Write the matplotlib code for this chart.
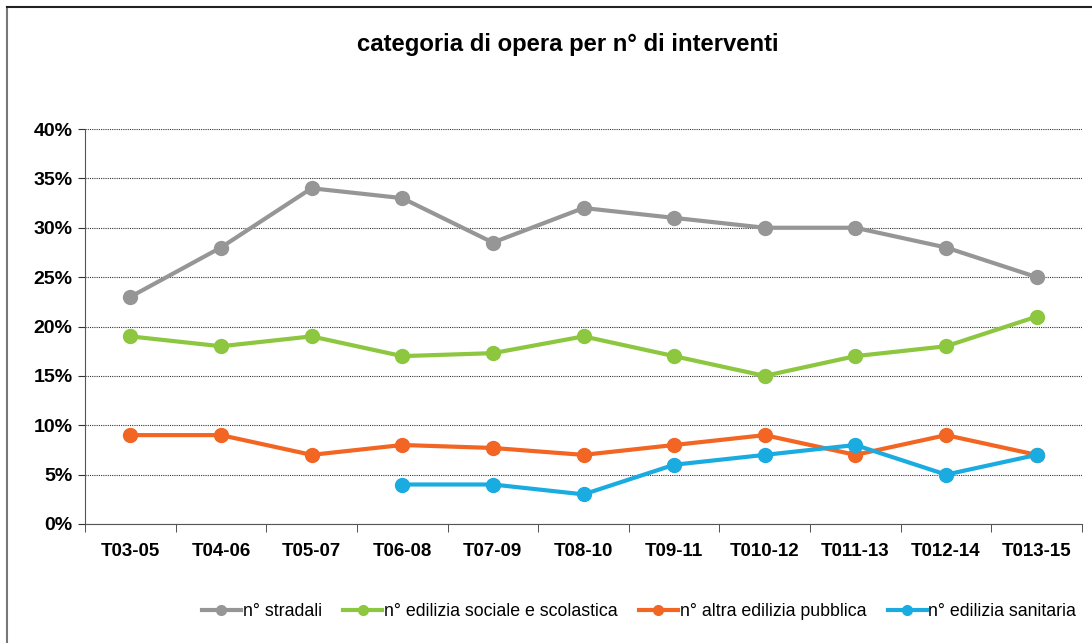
import matplotlib
matplotlib.use("Agg")
import matplotlib.pyplot as plt
from matplotlib.lines import Line2D
import numpy as np

categories = ["T03-05", "T04-06", "T05-07", "T06-08", "T07-09", "T08-10",
              "T09-11", "T010-12", "T011-13", "T012-14", "T013-15"]
stradali = [23, 28, 34, 33, 28.5, 32, 31, 30, 30, 28, 25]
sociale = [19, 18, 19, 17, 17.3, 19, 17, 15, 17, 18, 21]
altra = [9, 9, 7, 8, 7.7, 7, 8, 9, 7, 9, 7]
sanitaria = [np.nan, np.nan, np.nan, 4, 4, 3, 6, 7, 8, 5, 7]
yticks = [0, 5, 10, 15, 20, 25, 30, 35, 40]

series = [
    ("n° stradali", stradali, "#969696"),
    ("n° edilizia sociale e scolastica", sociale, "#8DC63F"),
    ("n° altra edilizia pubblica", altra, "#F26522"),
    ("n° edilizia sanitaria", sanitaria, "#1AACE0"),
]

plt.rcParams['font.family'] = ['Liberation Sans', 'DejaVu Sans']

fig = plt.figure(figsize=(10.92, 6.43), dpi=100)
ax = fig.add_axes([85/1092, 1-524/643, (1082-85)/1092, (524-129)/643])

x = np.arange(len(categories))
for name, vals, col in series:
    ax.plot(x, vals, color=col, lw=3, marker="o", ms=10, label=name,
            solid_joinstyle="round", zorder=3)

ax.set_xlim(-0.5, len(categories) - 0.5)
ax.set_ylim(0, 40)
ax.set_yticks(yticks)
ax.set_yticklabels([f"{v}%" for v in yticks], fontsize=14, fontweight="bold")
ax.set_xticks(x)
ax.set_xticklabels(categories, fontsize=13.5, fontweight="bold")
ax.set_xticks(np.arange(-0.5, len(categories)), minor=True)
ax.tick_params(axis="x", which="major", length=0, pad=14)
ax.tick_params(axis="x", which="minor", length=6, direction="out", color="#333333")
ax.tick_params(axis="y", length=5, direction="out", color="#333333", pad=4)
ax.yaxis.grid(True, color="#333333", linestyle=(0, (1, 1)), lw=0.8)
ax.set_axisbelow(True)
for s in ["top", "right"]:
    ax.spines[s].set_visible(False)
ax.spines["left"].set_color("#555555")
ax.spines["bottom"].set_color("#555555")

fig.text(568/1092, 1-45/643, "categoria di opera per n° di interventi",
         ha="center", va="center", fontsize=17.2, fontweight="bold")

handles = [Line2D([0], [0], color=c, lw=3, marker="o", ms=7) for _, _, c in series]
fig.legend(handles, [n for n, _, _ in series], loc="center",
           bbox_to_anchor=(639/1092, 1-612/643), ncol=4, frameon=False,
           fontsize=12.8, handlelength=2.2, handletextpad=0.1, columnspacing=1.2)

# outer chart border (top and left visible)
fig.add_artist(Line2D([7/1092, 7/1092], [0, 1-7/643], transform=fig.transFigure,
                      color="#777777", lw=1.5))
fig.add_artist(Line2D([7/1092, 1], [1-7/643, 1-7/643], transform=fig.transFigure,
                      color="#222222", lw=1.5))

fig.savefig("out.png", dpi=100)
